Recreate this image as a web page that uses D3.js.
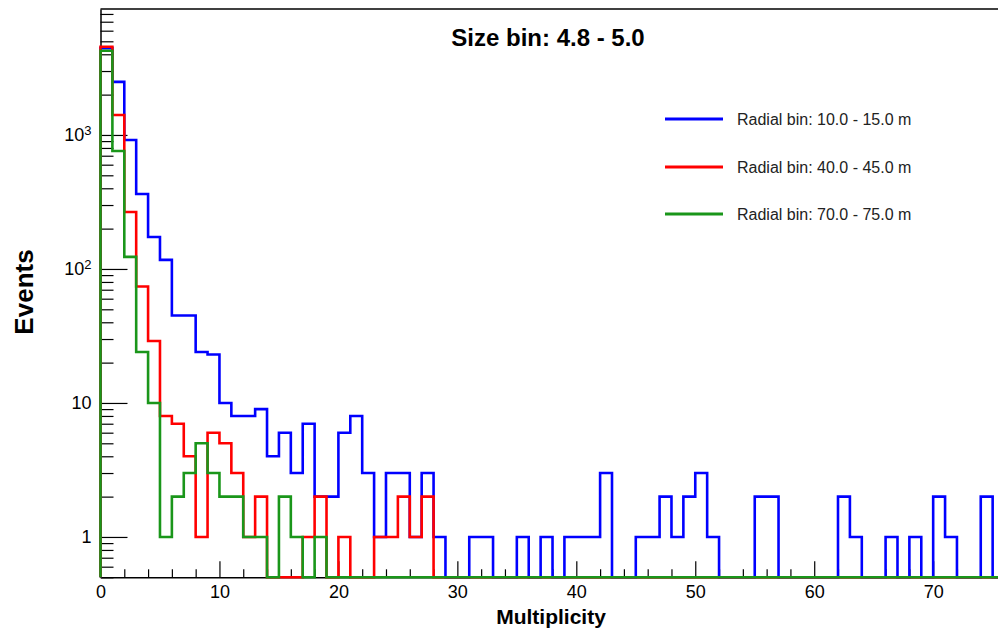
<!DOCTYPE html>
<html>
<head>
<meta charset="utf-8">
<script src="https://cdn.jsdelivr.net/npm/d3@7"></script>
<style>
  body { margin: 0; background: #fff; }
  text { font-family: "Liberation Sans", Arial, Helvetica, sans-serif; }
</style>
</head>
<body>
<svg id="chart" width="998" height="628"></svg>
<script>
// counts per unit bin of multiplicity, bins 0..75
var blueCounts = [4450, 2490, 918, 363, 173, 117, 45, 45, 24, 23,
  10, 8, 8, 9, 4, 6, 3, 7, 2, 2,
  6, 8, 3, 1, 3, 3, 1, 3, 1, 0,
  0, 1, 1, 0, 0, 1, 0, 1, 0, 1,
  1, 1, 3, 0, 0, 1, 1, 2, 1, 2,
  3, 1, 0, 0, 0, 2, 2, 0, 0, 0,
  0, 0, 2, 1, 0, 0, 1, 0, 1, 0,
  2, 1, 0, 0, 2, 0];
var redCounts = [4550, 1410, 266, 74, 29, 8, 7, 4, 1, 6,
  5, 3, 1, 2, 0, 0, 0, 1, 2, 0,
  1, 0, 0, 1, 1, 2, 1, 2, 0, 0,
  0, 0, 0, 0, 0, 0, 0, 0, 0, 0,
  0, 0, 0, 0, 0, 0, 0, 0, 0, 0,
  0, 0, 0, 0, 0, 0, 0, 0, 0, 0,
  0, 0, 0, 0, 0, 0, 0, 0, 0, 0,
  0, 0, 0, 0, 0, 0];
var greenCounts = [4250, 760, 123, 24, 10, 1, 2, 3, 5, 3,
  2, 2, 1, 1, 0, 2, 1, 0, 1, 0,
  0, 0, 0, 0, 0, 0, 0, 0, 0, 0,
  0, 0, 0, 0, 0, 0, 0, 0, 0, 0,
  0, 0, 0, 0, 0, 0, 0, 0, 0, 0,
  0, 0, 0, 0, 0, 0, 0, 0, 0, 0,
  0, 0, 0, 0, 0, 0, 0, 0, 0, 0,
  0, 0, 0, 0, 0, 0];
var seriesNames = ["Radial bin: 10.0 - 15.0 m", "Radial bin: 40.0 - 45.0 m", "Radial bin: 70.0 - 75.0 m"];
var seriesColors = ["#0000ff", "#ff0000", "#1a961a"];
var xMajorTicks = [0, 10, 20, 30, 40, 50, 60, 70];
var yMajorTicks = [1, 10, 100, 1000];
var titleText = "Size bin: 4.8 - 5.0";

function drawChart() {
  var svg = d3.select("#chart"),
      m = {left: 100.5, right: 998, top: 9, bottom: 577.3},
      yMin = 0.5, yMax = 8710;

  var x = d3.scaleLinear().domain([0, 75.45]).range([m.left, m.right]);
  var y = d3.scaleLog().domain([yMin, yMax]).range([m.bottom, m.top]);

  svg.append("defs").append("clipPath").attr("id", "plotclip")
    .append("rect").attr("x", m.left - 2).attr("y", 0).attr("width", m.right - m.left + 4).attr("height", m.bottom + 3);

  // minor ticks
  var xMinor = d3.range(0, 76, 2).filter(function(d) { return d % 10 != 0; });
  svg.append("g").attr("transform", "translate(0," + m.bottom + ")")
    .call(d3.axisBottom(x).tickValues(xMinor).tickSizeInner(-8).tickSizeOuter(0).tickFormat(""))
    .call(function(g) { g.select(".domain").remove(); });

  var yMinor = [];
  [0.1, 1, 10, 100, 1000].forEach(function(p) {
    for (var k = 2; k <= 9; k++) {
      var v = k * p;
      if (v >= yMin && v <= yMax) yMinor.push(v);
    }
  });
  svg.append("g").attr("transform", "translate(" + m.left + ",0)")
    .call(d3.axisLeft(y).tickValues(yMinor).tickSizeInner(-13).tickSizeOuter(0).tickFormat(""))
    .call(function(g) { g.select(".domain").remove(); });

  // major axes
  var xAxis = svg.append("g").attr("transform", "translate(0," + m.bottom + ")")
    .call(d3.axisBottom(x).tickValues(xMajorTicks).tickSizeInner(-16).tickSizeOuter(0).tickPadding(8));
  xAxis.selectAll("text").attr("font-size", 18).attr("fill", "#000");

  var yAxis = svg.append("g").attr("transform", "translate(" + m.left + ",0)")
    .call(d3.axisLeft(y).tickValues(yMajorTicks).tickSizeInner(-27).tickSizeOuter(0).tickPadding(9)
      .tickFormat(function() { return ""; }));
  yAxis.selectAll(".tick text").each(function(d) {
    var t = d3.select(this).attr("font-size", 18).attr("fill", "#000");
    var e = Math.round(Math.log10(d));
    if (e < 2) {
      t.text(String(d));
    } else {
      t.append("tspan").text("10");
      t.append("tspan").attr("dy", "-0.45em").attr("font-size", 13).text(String(e));
    }
  });

  svg.selectAll(".domain").attr("stroke", "#000").attr("stroke-width", 1.5);
  svg.selectAll(".tick line").attr("stroke", "#000").attr("stroke-width", 1.2);

  // frame top
  svg.append("line").attr("x1", m.left).attr("x2", m.right).attr("y1", m.top).attr("y2", m.top)
    .attr("stroke", "#000").attr("stroke-width", 1.5);

  // histograms
  var line = d3.line()
    .x(function(d) { return x(d[0]); })
    .y(function(d) { return y(Math.max(d[1], yMin)); })
    .curve(d3.curveStepAfter);

  function histPoints(counts) {
    var pts = [[0, yMin]];
    counts.forEach(function(c, i) { pts.push([i, c]); });
    pts.push([counts.length, yMin]);
    return pts;
  }

  var plot = svg.append("g").attr("clip-path", "url(#plotclip)");
  [blueCounts, redCounts, greenCounts].forEach(function(counts, i) {
    plot.append("path")
      .attr("d", line(histPoints(counts)))
      .attr("fill", "none")
      .attr("stroke", seriesColors[i])
      .attr("stroke-width", 2.6);
  });

  // legend
  var legendY = [119, 167, 214];
  seriesNames.forEach(function(name, i) {
    svg.append("line").attr("x1", 665).attr("x2", 723).attr("y1", legendY[i]).attr("y2", legendY[i])
      .attr("stroke", seriesColors[i]).attr("stroke-width", 3);
    svg.append("text").attr("x", 737).attr("y", legendY[i]).attr("dy", "0.35em")
      .attr("font-size", 16).attr("fill", "#222").text(name);
  });

  // titles
  svg.append("text").attr("x", 548).attr("y", 46).attr("text-anchor", "middle")
    .attr("font-size", 24).attr("font-weight", "bold").text(titleText);

  svg.append("text").attr("transform", "translate(33,292) rotate(-90)").attr("text-anchor", "middle")
    .attr("font-size", 26).attr("font-weight", "bold").text("Events");

  svg.append("text").attr("x", 551).attr("y", 624).attr("text-anchor", "middle")
    .attr("font-size", 21).attr("font-weight", "bold").text("Multiplicity");
}

drawChart();
</script>
</body>
</html>
